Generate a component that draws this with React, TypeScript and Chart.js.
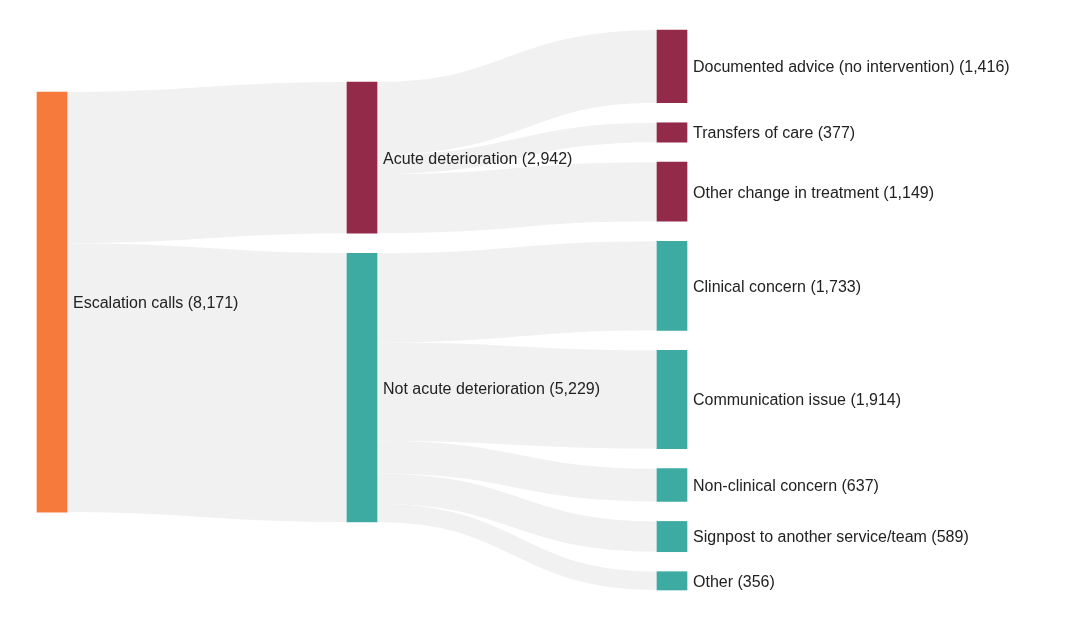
import React, { useEffect, useRef } from "react";
import { Chart, registerables } from "chart.js";

Chart.register(...registerables);

const nodeNames = [
  "Escalation calls",
  "Acute deterioration",
  "Not acute deterioration",
  "Documented advice (no intervention)",
  "Transfers of care",
  "Other change in treatment",
  "Clinical concern",
  "Communication issue",
  "Non-clinical concern",
  "Signpost to another service/team",
  "Other",
];
const nodeColumns = [0, 1, 1, 2, 2, 2, 2, 2, 2, 2, 2];
const nodeColors = [
  "#F57A3C",
  "#932A4A",
  "#3DABA2",
  "#932A4A",
  "#932A4A",
  "#932A4A",
  "#3DABA2",
  "#3DABA2",
  "#3DABA2",
  "#3DABA2",
  "#3DABA2",
];
const linkSources = [0, 0, 1, 1, 1, 2, 2, 2, 2, 2];
const linkTargets = [1, 2, 3, 4, 5, 6, 7, 8, 9, 10];
const linkValues = [2942, 5229, 1416, 377, 1149, 1733, 1914, 637, 589, 356];

// layout constants (value units)
const NODE_GAP = 389;
const COLUMN_NUDGE = [-155, -155, 0];
const FLOW_COLOR = "#F1F1F1";

function computeLayout() {
  const n = nodeNames.length;
  const inSum = new Array(n).fill(0);
  const outSum = new Array(n).fill(0);
  linkValues.forEach((v, i) => {
    outSum[linkSources[i]] += v;
    inSum[linkTargets[i]] += v;
  });
  const nodeValue = nodeNames.map((_, i) => Math.max(inSum[i], outSum[i]));
  const cols = Array.from(new Set(nodeColumns)).sort((a, b) => a - b);
  const spans = cols.map((c) => {
    const ids = nodeNames.map((_, i) => i).filter((i) => nodeColumns[i] === c);
    return ids.reduce((s, i) => s + nodeValue[i], 0) + (ids.length - 1) * NODE_GAP;
  });
  const maxSpan = Math.max(...spans);
  const nodeY0 = new Array(n).fill(0);
  cols.forEach((c, ci) => {
    let y = (maxSpan - spans[ci]) / 2 + COLUMN_NUDGE[ci];
    nodeNames.forEach((_, i) => {
      if (nodeColumns[i] === c) {
        nodeY0[i] = y;
        y += nodeValue[i] + NODE_GAP;
      }
    });
  });
  const outOff = nodeY0.slice();
  const inOff = nodeY0.slice();
  const links = linkValues.map((v, i) => {
    const s = linkSources[i];
    const t = linkTargets[i];
    const sy = outOff[s];
    const ty = inOff[t];
    outOff[s] += v;
    inOff[t] += v;
    return { s, t, v, sy, ty };
  });
  return { nodeValue, nodeY0, links, maxSpan };
}

export default function App() {
  const ref = useRef<HTMLCanvasElement | null>(null);

  useEffect(() => {
    if (!ref.current) return;
    const { nodeValue, nodeY0, links, maxSpan } = computeLayout();
    const HALF = 15;

    const flowPlugin = {
      id: "flows",
      beforeDatasetsDraw(chart: any) {
        const ctx = chart.ctx;
        const xs = chart.scales.x;
        const ys = chart.scales.y;
        ctx.save();
        ctx.strokeStyle = FLOW_COLOR;
        links.forEach((l) => {
          const x0 = xs.getPixelForValue(nodeColumns[l.s]) + HALF;
          const x1 = xs.getPixelForValue(nodeColumns[l.t]) - HALF;
          const y0 = ys.getPixelForValue(l.sy + l.v / 2);
          const y1 = ys.getPixelForValue(l.ty + l.v / 2);
          const w = Math.abs(ys.getPixelForValue(l.v) - ys.getPixelForValue(0));
          const xm = (x0 + x1) / 2;
          ctx.lineWidth = w;
          ctx.lineCap = "butt";
          ctx.beginPath();
          ctx.moveTo(x0, y0);
          ctx.bezierCurveTo(xm, y0, xm, y1, x1, y1);
          ctx.stroke();
        });
        ctx.restore();
      },
      afterDatasetsDraw(chart: any) {
        const ctx = chart.ctx;
        const xs = chart.scales.x;
        const ys = chart.scales.y;
        ctx.save();
        ctx.font = '16px "Liberation Sans", Arial, sans-serif';
        ctx.fillStyle = "#222222";
        ctx.textAlign = "left";
        ctx.textBaseline = "middle";
        nodeNames.forEach((name, i) => {
          const x = xs.getPixelForValue(nodeColumns[i]) + HALF + 6;
          const y = ys.getPixelForValue(nodeY0[i] + nodeValue[i] / 2) + 1.5;
          ctx.fillText(`${name} (${nodeValue[i].toLocaleString("en-US")})`, x, y);
        });
        ctx.restore();
      },
    };

    const chart = new Chart(ref.current, {
      type: "bar",
      data: {
        datasets: [
          {
            data: nodeNames.map((_, i) => ({
              x: nodeColumns[i],
              y: [nodeY0[i], nodeY0[i] + nodeValue[i]],
            })) as any,
            backgroundColor: nodeColors,
            borderWidth: 0,
            barThickness: 30,
            grouped: false,
            clip: false as any,
          },
        ],
      },
      options: {
        animation: false,
        responsive: true,
        maintainAspectRatio: false,
        events: [],
        layout: { padding: { left: 52, right: 413, top: 30, bottom: 30 } },
        plugins: { legend: { display: false }, tooltip: { enabled: false } },
        scales: {
          x: { type: "linear", min: 0, max: 2, display: false, offset: false },
          y: { type: "linear", min: 0, max: maxSpan, reverse: true, display: false },
        },
      },
      plugins: [flowPlugin],
    });
    return () => chart.destroy();
  }, []);

  return (
    <div style={{ position: "fixed", left: 0, top: 0, width: 1085, height: 620, background: "#fff" }}>
      <canvas ref={ref} />
    </div>
  );
}
